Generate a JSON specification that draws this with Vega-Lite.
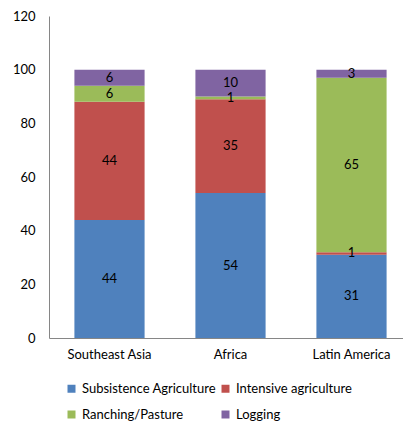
{
  "$schema": "https://vega.github.io/schema/vega-lite/v6.json",
  "width": 354,
  "height": 322,
  "autosize": {"type": "none"},
  "padding": {"left": 49, "top": 16, "right": 0, "bottom": 83},
  "background": "white",
  "config": {
    "view": {"stroke": null},
    "font": "Lato",
    "axis": {"labelFont": "Lato", "labelFontSize": 13, "labelColor": "#000000", "domainColor": "#868686", "ticks": false, "grid": false, "title": null},
    "legend": {"labelFont": "Lato", "labelFontSize": 13, "labelColor": "#000000"}
  },
  "data": {
    "values": [
      {"region": "Southeast Asia", "cause": "Subsistence Agriculture", "value": 44, "ord": 1},
      {"region": "Southeast Asia", "cause": "Intensive agriculture", "value": 44, "ord": 2},
      {"region": "Southeast Asia", "cause": "Ranching/Pasture", "value": 6, "ord": 3},
      {"region": "Southeast Asia", "cause": "Logging", "value": 6, "ord": 4},
      {"region": "Africa", "cause": "Subsistence Agriculture", "value": 54, "ord": 1},
      {"region": "Africa", "cause": "Intensive agriculture", "value": 35, "ord": 2},
      {"region": "Africa", "cause": "Ranching/Pasture", "value": 1, "ord": 3},
      {"region": "Africa", "cause": "Logging", "value": 10, "ord": 4},
      {"region": "Latin America", "cause": "Subsistence Agriculture", "value": 31, "ord": 1},
      {"region": "Latin America", "cause": "Intensive agriculture", "value": 1, "ord": 2},
      {"region": "Latin America", "cause": "Ranching/Pasture", "value": 65, "ord": 3},
      {"region": "Latin America", "cause": "Logging", "value": 3, "ord": 4}
    ]
  },
  "encoding": {
    "x": {
      "field": "region", "type": "nominal", "sort": ["Southeast Asia", "Africa", "Latin America"],
      "scale": {"range": [0, 363], "paddingInner": 0.42, "paddingOuter": 0.21},
      "axis": {"labelAngle": 0, "labelPadding": 10}
    },
    "y": {
      "field": "value", "type": "quantitative", "stack": "zero",
      "scale": {"domain": [0, 120], "nice": false},
      "axis": {"values": [0, 20, 40, 60, 80, 100, 120], "labelPadding": 14}
    },
    "order": {"field": "ord", "type": "quantitative"}
  },
  "layer": [
    {
      "mark": {"type": "bar"},
      "encoding": {
        "color": {
          "field": "cause", "type": "nominal",
          "sort": ["Subsistence Agriculture", "Intensive agriculture", "Ranching/Pasture", "Logging"],
          "scale": {"domain": ["Subsistence Agriculture", "Intensive agriculture", "Ranching/Pasture", "Logging"], "range": ["#4F81BD", "#C0504D", "#9BBB59", "#8064A2"]},
          "legend": {"orient": "none", "direction": "horizontal", "legendX": 16, "legendY": 366, "columns": 2, "title": null, "symbolType": "square", "symbolSize": 64, "symbolStrokeWidth": 0, "symbolOpacity": 1, "columnPadding": 2, "rowPadding": 12, "labelOffset": 4, "padding": 0}
        }
      }
    },
    {
      "mark": {"type": "text", "fontSize": 13, "font": "Lato", "color": "#000000"},
      "encoding": {
        "y": {"field": "value", "type": "quantitative", "stack": "zero", "bandPosition": 0.5},
        "text": {"field": "value", "type": "quantitative"}
      }
    }
  ]
}
